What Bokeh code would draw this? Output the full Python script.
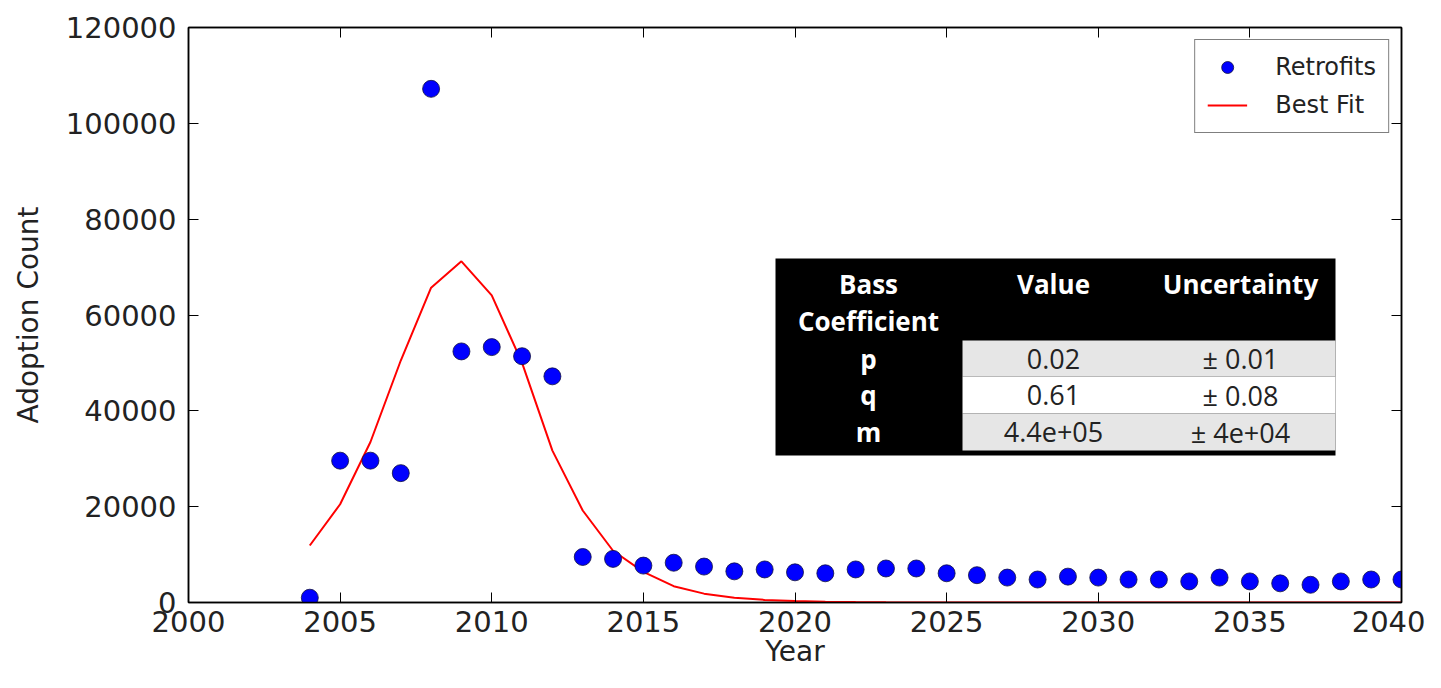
from bokeh.plotting import figure
from bokeh.models import (Range1d, LinearAxis, SingleIntervalTicker, BasicTickFormatter,
                          CustomJSTickFormatter, Legend, LegendItem, BoxAnnotation, Label,
                          ColumnDataSource)
from bokeh.embed import file_html
from bokeh.resources import INLINE

# ---------------- data ----------------
years = list(range(2004, 2041))
retrofits = [1000, 29600, 29600, 27000, 107200, 52400, 53300, 51400, 47200, 9500,
             9100, 7700, 8300, 7500, 6500, 6900, 6300, 6100, 6900, 7100,
             7100, 6100, 5700, 5200, 4800, 5400, 5200, 4800, 4800, 4400,
             5200, 4400, 4000, 3700, 4400, 4800, 4800]
best_fit = [11900, 20500, 33500, 50500, 65700, 71200, 64100, 50000, 31700, 19200,
            10800, 6400, 3400, 1850, 1000, 540, 290, 160, 85, 45,
            25, 13, 7, 4, 2, 1, 1, 0, 0, 0,
            0, 0, 0, 0, 0, 0, 0]

table_header = ["Bass\nCoefficient", "Value", "Uncertainty"]
coef_names = ["p", "q", "m"]
coef_values = ["0.02", "0.61", "4.4e+05"]
coef_uncert = ["± 0.01", "± 0.08", "± 4e+04"]

# ---------------- figure ----------------
FONT = "DejaVu Sans"
TFONT = "Open Sans"
p = figure(width=1425, height=672, output_backend="svg", toolbar_location=None,
           x_range=Range1d(2000, 2040), y_range=Range1d(0, 120000),
           min_border_left=188, min_border_right=24, min_border_top=27, min_border_bottom=70)
p.background_fill_color = "white"
p.border_fill_color = "white"
p.grid.visible = False
p.outline_line_color = "black"
p.outline_line_width = 1.5

p.xaxis.ticker = SingleIntervalTicker(interval=5)
p.yaxis.ticker = SingleIntervalTicker(interval=20000)
p.yaxis.formatter = BasicTickFormatter(use_scientific=False)
p.xaxis.formatter = BasicTickFormatter(use_scientific=False)
p.xaxis.axis_label = "Year"
p.yaxis.axis_label = "Adoption Count"

for ax in (p.xaxis[0], p.yaxis[0]):
    ax.major_label_text_font = FONT
    ax.major_label_text_font_size = "29px"
    ax.major_label_text_color = "#222222"
    ax.axis_label_text_font = FONT
    ax.axis_label_text_font_size = "28px"
    ax.axis_label_text_font_style = "normal"
    ax.axis_label_text_color = "#222222"
    ax.major_tick_in = 10
    ax.major_tick_out = 0
    ax.minor_tick_in = 0
    ax.minor_tick_out = 0
    ax.axis_line_width = 1.5
    ax.major_tick_line_width = 1
p.xaxis.major_label_standoff = 8
p.xaxis.axis_label_standoff = 0
p.yaxis.major_label_standoff = 12
p.yaxis.axis_label_standoff = 18

# mirrored ticks on top and right (no labels)
blank = CustomJSTickFormatter(code="return '';")
top_ax = LinearAxis(ticker=SingleIntervalTicker(interval=5), formatter=blank)
right_ax = LinearAxis(ticker=SingleIntervalTicker(interval=20000), formatter=blank)
for ax in (top_ax, right_ax):
    ax.major_label_standoff = 0
    ax.major_tick_in = 10
    ax.major_tick_out = 0
    ax.minor_tick_in = 0
    ax.minor_tick_out = 0
    ax.axis_line_width = 1.5
p.add_layout(top_ax, "above")
p.add_layout(right_ax, "right")

src = ColumnDataSource(dict(year=years, retro=retrofits, fit=best_fit))
r_line = p.line("year", "fit", source=src, line_color="#ff0000", line_width=2)
r_dots = p.scatter("year", "retro", source=src, size=17, fill_color="#0000ff",
                   line_color="#101040", line_width=0.8)

legend = Legend(items=[LegendItem(label="Retrofits", renderers=[r_dots]),
                       LegendItem(label="Best Fit", renderers=[r_line])],
                location="top_right")
legend.margin = 12
legend.padding = 12
legend.spacing = 8
legend.glyph_width = 40
legend.glyph_height = 30
legend.label_height = 30
legend.label_standoff = 28
legend.label_text_font = FONT
legend.label_text_font_size = "24px"
legend.label_text_color = "#222222"
legend.border_line_color = "black"
legend.border_line_width = 1.5
legend.background_fill_alpha = 1.0
p.add_layout(legend)

# ---------------- table overlay (screen units, relative to frame) ----------------
T_LEFT, T_RIGHT, T_TOP, T_BOTTOM = 587, 1147, 344, 147
COL1_RIGHT = 774
ROW_EDGES = [262, 226, 189, 152]
COL_CENTERS = [680, 865, 1052]
HEADER_Y = [319, 282]

p.add_layout(BoxAnnotation(left=T_LEFT, right=T_RIGHT, top=T_TOP, bottom=T_BOTTOM,
                           left_units="screen", right_units="screen",
                           top_units="screen", bottom_units="screen",
                           fill_color="black", fill_alpha=1.0, line_alpha=0))
row_fill = ["#e6e6e6", "#ffffff", "#e6e6e6"]
for i in range(3):
    p.add_layout(BoxAnnotation(left=COL1_RIGHT, right=T_RIGHT,
                               top=ROW_EDGES[i], bottom=ROW_EDGES[i + 1],
                               left_units="screen", right_units="screen",
                               top_units="screen", bottom_units="screen",
                               fill_color=row_fill[i], fill_alpha=1.0, line_alpha=0))

def add_text(txt, x, y, bold, color, size):
    p.add_layout(Label(x=x, y=y, x_units="screen", y_units="screen", text=txt,
                       text_align="center", text_baseline="middle",
                       text_font=TFONT, text_font_size=size,
                       text_font_style="bold" if bold else "normal",
                       text_color=color))

hdr_lines = table_header[0].split("\n")
add_text(hdr_lines[0], COL_CENTERS[0], HEADER_Y[0], True, "white", "26px")
add_text(hdr_lines[1], COL_CENTERS[0], HEADER_Y[1], True, "white", "26px")
add_text(table_header[1], COL_CENTERS[1], HEADER_Y[0], True, "white", "26px")
add_text(table_header[2], COL_CENTERS[2], HEADER_Y[0], True, "white", "26px")
for i in range(3):
    yc = (ROW_EDGES[i] + ROW_EDGES[i + 1]) / 2
    add_text(coef_names[i], COL_CENTERS[0], yc, True, "white", "26px")
    add_text(coef_values[i], COL_CENTERS[1], yc, False, "#222222", "27px")
    add_text(coef_uncert[i], COL_CENTERS[2], yc, False, "#222222", "27px")

open("out.html", "w").write(file_html(p, INLINE))
